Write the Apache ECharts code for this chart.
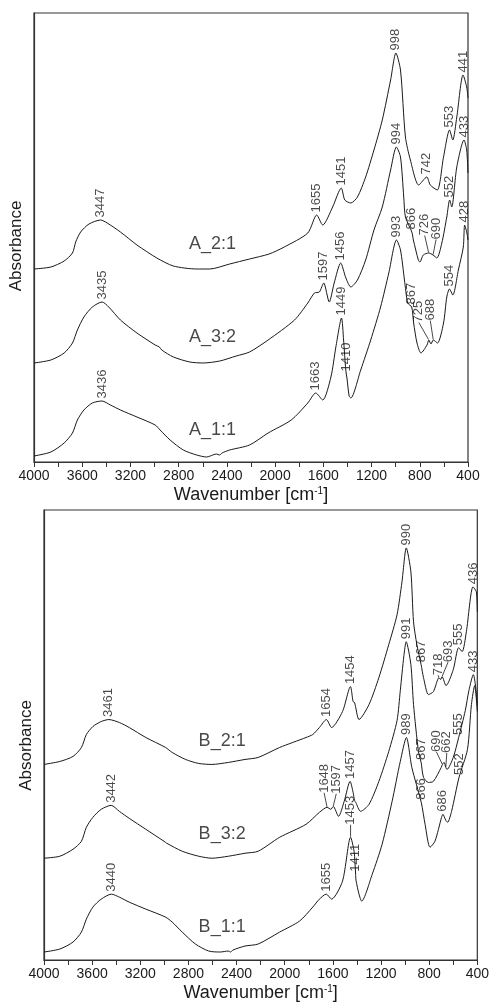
<!DOCTYPE html>
<html>
<head>
<meta charset="utf-8">
<script src="https://cdn.jsdelivr.net/npm/echarts@6/dist/echarts.min.js"></script>
<style>
html, body { margin: 0; padding: 0; background: #fff; }
#chart { width: 492px; height: 1003px; }
</style>
</head>
<body>
<div id="chart"></div>
<script>
// spectra: wavenumber (cm-1) and absorbance (arb. units, offset stack)
var a21Wn = [4000,3860,3750,3681,3654,3613,3544,3447,3393,3283,3146,2981,2844,2651,2542,2377,2212,2050,1924,1729,1655,1605,1523,1451,1422,1372,1317,1249,1180,1111,1042,998,960,919,878,809,742,713,655,603,553,526,493,441,411,400];
var a21Abs = [1.93,1.95,2.01,2.09,2.20,2.30,2.38,2.42,2.39,2.30,2.17,2.04,1.96,1.93,1.93,1.98,2.03,2.08,2.15,2.29,2.47,2.37,2.55,2.74,2.62,2.59,2.65,2.85,3.12,3.42,3.82,4.09,3.92,3.25,3.02,2.77,2.85,2.77,2.72,3.05,3.32,3.22,3.45,3.87,3.75,3.64];
var a21Peaks = [3447,1655,1451,998,742,553,441];

var a32Wn = [4000,3860,3750,3681,3640,3586,3516,3435,3380,3283,3146,2995,2960,2940,2844,2707,2597,2459,2322,2212,2058,1839,1729,1674,1633,1597,1551,1510,1456,1413,1372,1317,1249,1180,1111,1042,994,960,933,919,866,853,812,799,771,726,690,658,617,576,552,535,493,433,411,400];
var a32Abs = [0.99,1.02,1.09,1.19,1.32,1.45,1.55,1.60,1.55,1.42,1.29,1.17,1.15,1.12,1.05,1.00,0.99,1.01,1.06,1.10,1.22,1.42,1.59,1.69,1.70,1.79,1.60,1.79,1.99,1.84,1.75,1.82,2.02,2.32,2.55,2.92,3.15,3.05,2.65,2.45,2.30,2.22,2.02,2.00,2.07,2.09,2.07,2.04,2.19,2.45,2.62,2.55,2.95,3.22,3.12,2.89];
var a32Peaks = [3435,1597,1456,994,866,726,690,552,433];

var a11Wn = [4000,3860,3750,3681,3640,3586,3516,3436,3366,3283,3146,2995,2954,2871,2762,2651,2569,2487,2460,2440,2377,2212,2058,1866,1729,1663,1605,1537,1496,1449,1432,1418,1410,1404,1386,1372,1290,1207,1125,1057,993,960,927,900,867,851,823,790,740,725,707,688,653,603,576,554,526,480,439,428,411,400];
var a11Abs = [0.06,0.10,0.19,0.29,0.42,0.52,0.59,0.61,0.57,0.52,0.45,0.37,0.32,0.22,0.12,0.07,0.05,0.08,0.07,0.09,0.12,0.17,0.29,0.42,0.59,0.69,0.62,0.85,1.15,1.44,1.22,0.98,0.88,0.84,0.66,0.64,0.92,1.22,1.55,1.89,2.22,2.12,1.82,1.59,1.55,1.39,1.19,1.09,1.17,1.22,1.18,1.22,1.19,1.39,1.65,1.73,1.67,1.92,2.15,2.37,2.30,2.22];
var a11Peaks = [3436,1663,1449,1410,993,867,725,688,554,428];

var b21Wn = [4000,3868,3759,3689,3648,3594,3525,3461,3374,3292,3154,2990,2935,2824,2715,2605,2468,2330,2221,2042,1823,1767,1712,1654,1611,1520,1454,1432,1420,1412,1383,1300,1218,1136,1067,1026,990,952,930,902,867,847,806,765,718,705,693,660,600,555,526,491,436,408,400];
var b21Abs = [1.96,1.99,2.04,2.13,2.26,2.34,2.39,2.41,2.38,2.33,2.23,2.13,2.08,2.01,1.97,1.96,1.98,2.01,2.03,2.13,2.23,2.26,2.33,2.41,2.33,2.49,2.74,2.59,2.58,2.54,2.41,2.56,2.83,3.16,3.46,3.79,4.13,3.89,3.39,3.16,2.96,2.83,2.66,2.69,2.83,2.81,2.84,2.75,2.91,3.13,3.09,3.29,3.74,3.69,3.49];
var b21Peaks = [3461,1654,1454,990,867,718,693,555,436];

var b32Wn = [4000,3868,3759,3689,3648,3594,3525,3442,3374,3292,3154,3003,2980,2852,2715,2605,2468,2330,2221,2042,1823,1712,1648,1617,1597,1553,1506,1457,1432,1420,1410,1370,1300,1218,1136,1067,1040,1010,991,952,930,889,867,847,806,765,700,690,676,662,652,600,555,500,470,433,410,400];
var b32Abs = [1.02,1.04,1.11,1.19,1.33,1.43,1.51,1.55,1.49,1.42,1.31,1.19,1.17,1.09,1.04,1.02,1.04,1.07,1.09,1.23,1.36,1.48,1.53,1.51,1.54,1.44,1.59,1.79,1.68,1.60,1.58,1.49,1.56,1.79,2.09,2.40,2.70,3.05,3.19,2.96,2.56,2.09,1.98,1.83,1.78,1.79,1.93,1.96,1.98,1.93,1.91,2.03,2.23,2.50,2.70,2.86,2.70,2.55];
var b32Peaks = [3442,1648,1597,1457,991,867,690,662,555,433];

var b11Wn = [4000,3868,3759,3689,3648,3594,3525,3440,3374,3292,3154,2990,2935,2852,2742,2632,2536,2470,2450,2430,2330,2221,2042,1877,1767,1712,1655,1611,1520,1453,1424,1411,1408,1383,1361,1273,1191,1108,1040,989,944,866,834,793,752,697,686,662,647,614,552,482,449,422,400];
var b11Abs = [0.08,0.11,0.18,0.28,0.41,0.53,0.61,0.66,0.63,0.58,0.51,0.43,0.38,0.28,0.16,0.09,0.08,0.09,0.08,0.10,0.14,0.16,0.28,0.39,0.53,0.61,0.66,0.61,0.79,1.23,1.09,0.86,0.80,0.66,0.59,0.86,1.16,1.59,1.99,2.23,1.93,1.58,1.36,1.13,1.19,1.43,1.46,1.40,1.38,1.49,1.83,2.11,2.56,2.75,2.49];
var b11Peaks = [3440,1655,1453,1411,989,866,686,552];

// where the sample names sit (wavenumber, absorbance)
var namesA = ['A_2:1', 'A_3:2', 'A_1:1'];
var namesB = ['B_2:1', 'B_3:2', 'B_1:1'];
var nameWn = 2520;
var nameAbsA = [2.18, 1.25, 0.32];
var nameAbsB = [2.19, 1.26, 0.33];

// crowded peak labels are pushed aside (screen px: right, down) and get a leader line
var nudges = {
  'A_3:2': {726: [-4, -15], 690: [3, -13]},
  'A_1:1': {725: [-10, -15], 688: [-3, -17]},
  'B_2:1': {718: [-1, 0], 693: [6, -12]},
  'B_3:2': {1648: [-3, -12], 1597: [3, -10], 690: [-6, -10], 662: [1, -12]},
  'B_1:1': {1453: [0, -10]}
};

var font = "'Liberation Sans', Arial, sans-serif";
var ink = '#1a1a1a';

function pairs(wn, ab) {
  return wn.map(function (w, i) { return [w, ab[i]]; });
}

function curve(name, wn, ab, g) {
  return {
    type: 'line', name: name, xAxisIndex: g, yAxisIndex: g,
    data: pairs(wn, ab), showSymbol: false, smooth: 0.25, silent: true,
    lineStyle: {color: ink, width: 1}
  };
}

function peakLabels(name, wn, ab, peaks, g) {
  var nd = nudges[name] || {};
  return {
    type: 'scatter', name: name + ' peaks', xAxisIndex: g, yAxisIndex: g,
    symbol: 'circle', symbolSize: 1, silent: true, z: 5,
    itemStyle: {color: 'transparent'},
    data: peaks.map(function (w) {
      return {value: [w, ab[wn.indexOf(w)]], labelLine: {show: !!nd[w]}};
    }),
    label: {
      show: true, position: 'top', distance: 2, rotate: 90,
      align: 'left', verticalAlign: 'middle',
      fontFamily: font, fontSize: 13, color: ink,
      formatter: function (p) { return String(p.value[0]); }
    },
    labelLine: {show: false, lineStyle: {color: ink, width: 0.8}},
    // the layout shift acts in the rotated label frame, so swap to screen axes
    labelLayout: function (p) {
      var d = nd[peaks[p.dataIndex]];
      return d ? {dx: -d[1], dy: d[0]} : {};
    }
  };
}

function sampleNames(names, abs, g) {
  return {
    type: 'scatter', xAxisIndex: g, yAxisIndex: g, symbolSize: 1, silent: true,
    itemStyle: {color: 'transparent'},
    data: names.map(function (n, i) { return {value: [nameWn, abs[i]], name: n}; }),
    label: {
      show: true, position: 'inside', fontFamily: font, fontSize: 18, color: ink,
      formatter: function (p) { return p.name; }
    }
  };
}

function xAxis(g) {
  return {
    gridIndex: g, type: 'value', inverse: true, min: 400, max: 4000, interval: 400,
    axisLine: {show: true, lineStyle: {color: '#333', width: 1.2}},
    axisTick: {show: true, length: 5, lineStyle: {color: '#333'}},
    minorTick: {show: true, splitNumber: 2, length: 5, lineStyle: {color: '#333'}},
    splitLine: {show: false},
    axisLabel: {fontFamily: font, fontSize: 14, color: ink, margin: 7,
      formatter: function (v) { return String(v); }},
    name: 'Wavenumber [cm{sup|-1}]', nameLocation: 'middle', nameGap: 24,
    nameTextStyle: {
      fontFamily: font, fontSize: 18, color: ink,
      rich: {sup: {fontFamily: font, fontSize: 10, color: ink, padding: [0, 0, 8, 0]}}
    }
  };
}

function yAxis(g, max, shift) {
  return {
    gridIndex: g, type: 'value', min: 0, max: max,
    axisLine: {show: true, lineStyle: {color: '#333', width: 1.2}},
    axisTick: {show: false}, axisLabel: {show: false}, splitLine: {show: false},
    name: 'Absorbance', nameLocation: 'middle', nameRotate: 90, nameGap: 9,
    nameTextStyle: {fontFamily: font, fontSize: 17, color: ink, padding: [0, shift, 0, 0]}
  };
}

var chart = echarts.init(document.getElementById('chart'), null, {renderer: 'canvas'});
chart.setOption({
  backgroundColor: '#fff',
  animation: false,
  grid: [
    {left: 31, top: 13, width: 437, height: 449, show: true, borderColor: '#333', borderWidth: 1.2},
    {left: 44, top: 510, width: 437, height: 451, show: true, borderColor: '#333', borderWidth: 1.2}
  ],
  xAxis: [xAxis(0), xAxis(1)],
  yAxis: [yAxis(0, 4.49, 17), yAxis(1, 4.51, 21)],
  series: [
    curve('A_2:1', a21Wn, a21Abs, 0),
    curve('A_3:2', a32Wn, a32Abs, 0),
    curve('A_1:1', a11Wn, a11Abs, 0),
    peakLabels('A_2:1', a21Wn, a21Abs, a21Peaks, 0),
    peakLabels('A_3:2', a32Wn, a32Abs, a32Peaks, 0),
    peakLabels('A_1:1', a11Wn, a11Abs, a11Peaks, 0),
    sampleNames(namesA, nameAbsA, 0),
    curve('B_2:1', b21Wn, b21Abs, 1),
    curve('B_3:2', b32Wn, b32Abs, 1),
    curve('B_1:1', b11Wn, b11Abs, 1),
    peakLabels('B_2:1', b21Wn, b21Abs, b21Peaks, 1),
    peakLabels('B_3:2', b32Wn, b32Abs, b32Peaks, 1),
    peakLabels('B_1:1', b11Wn, b11Abs, b11Peaks, 1),
    sampleNames(namesB, nameAbsB, 1)
  ]
});
</script>
</body>
</html>
